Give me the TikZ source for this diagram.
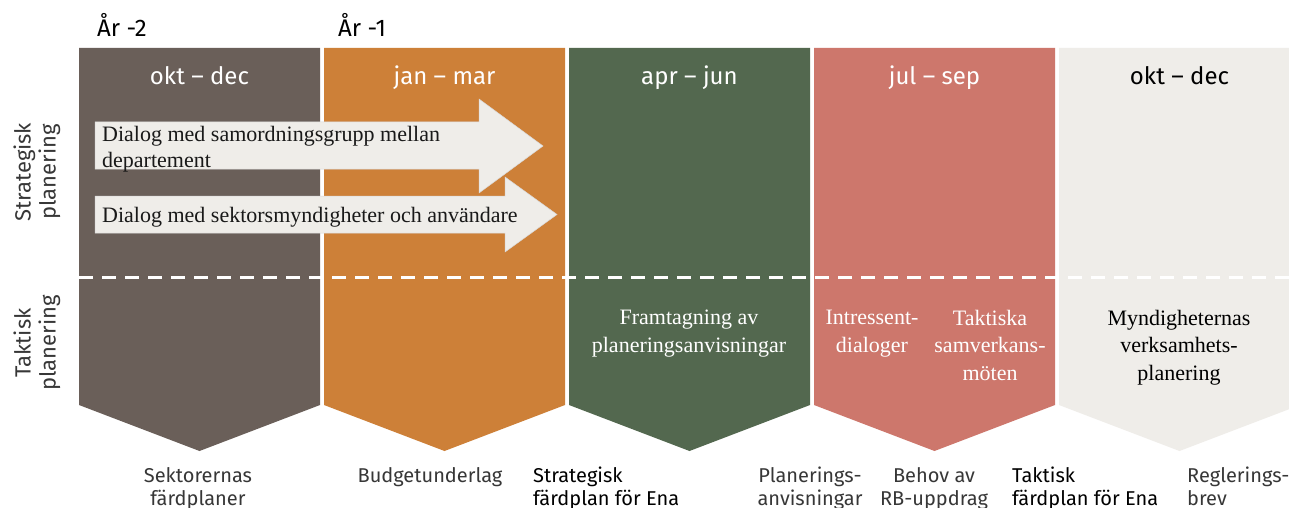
\documentclass[tikz,border=0pt]{standalone}
\usepackage{fontspec}
\setmainfont{Liberation Serif}
\setsansfont{Fira Sans}
\newfontfamily\lightsf{Fira Sans}
\usetikzlibrary{positioning,calc}
\definecolor{PeriodGray}{RGB}{106,95,89}
\definecolor{PeriodOrange}{RGB}{205,128,56}
\definecolor{PeriodGreen}{RGB}{83,104,79}
\definecolor{PeriodRose}{RGB}{205,119,108}
\definecolor{PeriodLight}{RGB}{239,237,233}
\definecolor{LabelGray}{RGB}{55,55,55}
\tikzset{
  year/.style={font=\sffamily\fontsize{24}{28}\selectfont,anchor=base west},
  period/.style={font=\lightsf\fontsize{24}{28}\selectfont,anchor=base},
  sidelabel/.style={font=\lightsf\fontsize{22}{25}\selectfont,text=LabelGray,
                    align=center,rotate=90},
  flowarrow/.style={fill=PeriodLight,draw=black!15,line width=0.5pt},
  flowtext/.style={font=\rmfamily\fontsize{22}{26}\selectfont,align=left,
                   anchor=base west,text=black!90},
  task/.style={font=\rmfamily\fontsize{22}{27.5}\selectfont,align=center,
               anchor=base},
  outcome/.style={font=\lightsf\fontsize{20}{23}\selectfont,text=LabelGray,
                  align=center,anchor=base},
  keyout/.style={font=\sffamily\fontsize{20}{23}\selectfont,align=left,
                 anchor=base west},
}

\begin{document}
\begin{tikzpicture}[x=1pt,y=-1pt,inner sep=0pt]
\useasboundingbox[fill=white] (0,0) rectangle (1289,508);
\clip (0,0) rectangle (1289,508);

% quarters
\foreach \i/\fc/\tc/\mon in {0/PeriodGray/white/{okt – dec},
                             1/PeriodOrange/white/{jan – mar},
                             2/PeriodGreen/white/{apr – jun},
                             3/PeriodRose/white/{jul – sep},
                             4/PeriodLight/black/{okt – dec}}{
  \pgfmathsetmacro{\xl}{79+245*\i}
  \fill[\fc] (\xl,48) -- ++(241,0) -- ++(0,357) -- ++(-120.5,46)
             -- ++(-120.5,-46) -- cycle;
  \node[period,text=\tc] (mon\i) at (\xl+120.5,85) {\mon};
}

\node[year] (yr2) at (97,37) {År -2};
\node[year] (yr1) at (338,37) {År -1};

\node[sidelabel] (strat) at (37,172) {Strategisk\\planering};
\node[sidelabel] (takt) at (37,343) {Taktisk\\planering};

% strategic / tactical split
\coordinate (split west) at (79,277);
\coordinate (split east) at (1289,277);
\draw[white,line width=3pt,dash pattern=on 14pt off 9pt] (split west) -- (split east);

% dialogue arrows (base anchor sits on the last line)
\filldraw[flowarrow] (95,122) -- (479,122) -- (479,99) -- (543,146)
  -- (479,193) -- (479,169) -- (95,169) -- cycle;
\node[flowtext] (dlg1) at (102,167) {Dialog med samordningsgrupp mellan\\departement};
\filldraw[flowarrow] (95,196) -- (505,196) -- (505,177) -- (557,214.5)
  -- (505,252) -- (505,233) -- (95,233) -- cycle;
\node[flowtext] (dlg2) at (102,222) {Dialog med sektorsmyndigheter och användare};

% tactical work
\node[task,text=white] (fram) at (689,352) {Framtagning av\\planeringsanvisningar};
\node[task,text=white] (intr) at (872,352) {Intressent-\\dialoger};
\node[task,text=white] (samv) at (990,380) {Taktiska\\samverkans-\\möten};
\node[task] (verk) at (1179,380) {Myndigheternas\\verksamhets-\\planering};

% deliverables
\node[outcome] (fard) at (198,505) {Sektorernas\\färdplaner};
\node[outcome] (budg) at (430,482) {Budgetunderlag};
\node[keyout] (sfp) at (533,505) {Strategisk\\färdplan för Ena};
\node[outcome] (plan) at (810,505) {Planerings-\\anvisningar};
\node[outcome] (rb) at (934,505) {Behov av\\RB-uppdrag};
\node[keyout] (tfp) at (1012,505) {Taktisk\\färdplan för Ena};
\node[outcome,align=left,anchor=base west] (regl) at (1187,505) {Reglerings-\\brev};
\end{tikzpicture}
\end{document}
